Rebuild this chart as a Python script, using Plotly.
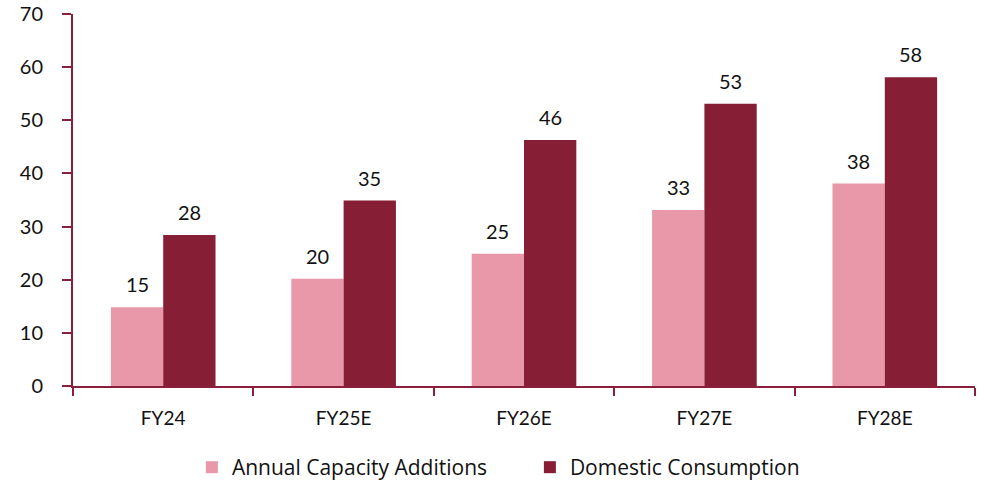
import plotly.graph_objects as go

categories = ["FY24", "FY25E", "FY26E", "FY27E", "FY28E"]
capacity_additions = [14.8, 20.2, 24.9, 33.1, 38.1]
domestic_consumption = [28.4, 34.9, 46.3, 53.1, 58.1]

AXIS = "#8B1E3A"
FONT = "Lato"
BARGAP = 0.42

fig = go.Figure()
fig.add_bar(x=categories, y=capacity_additions, name="Annual Capacity Additions",
            marker=dict(color="#E898A8", line=dict(width=0)))
fig.add_bar(x=categories, y=domestic_consumption, name="Domestic Consumption",
            marker=dict(color="#861E35", line=dict(width=0)))

# value labels above each bar, offset to the centre of each grouped bar
half = (1 - BARGAP) / 4
for series, dx in ((capacity_additions, -half), (domestic_consumption, half)):
    for i, v in enumerate(series):
        fig.add_annotation(x=i + dx, y=v, text=f"{v:.0f}", showarrow=False,
                           yanchor="bottom", yshift=9,
                           font=dict(size=20, color="#111", family=FONT))

fig.update_layout(
    width=984, height=487,
    margin=dict(l=73, r=9, t=14, b=101),
    paper_bgcolor="white", plot_bgcolor="white",
    barmode="group", bargap=BARGAP, bargroupgap=0,
    font=dict(family=FONT, size=19, color="#111"),
    showlegend=True,
    legend=dict(orientation="h", xref="container", yref="container",
                x=0.195, xanchor="left", y=0.04, yanchor="middle",
                font=dict(size=21, family="Open Sans"),
                entrywidth=293, entrywidthmode="pixels"),
    xaxis=dict(showline=True, linecolor=AXIS, linewidth=2, ticks="outside",
               tickson="boundaries", ticklen=8, tickcolor=AXIS, tickwidth=2,
               showgrid=False, tickfont=dict(size=19), automargin=False,
               ticklabelstandoff=14, range=[-0.5, 4.5]),
    yaxis=dict(range=[0, 70], dtick=10, showline=True, linecolor=AXIS, linewidth=2,
               ticks="outside", ticklen=9, tickcolor=AXIS, tickwidth=2,
               showgrid=False, zeroline=False, tickfont=dict(size=20),
               automargin=False, ticklabelstandoff=15),
)

fig.write_html("out.html", config={"displayModeBar": False},
               post_script="document.body.style.margin='0';document.body.style.overflow='hidden';")
